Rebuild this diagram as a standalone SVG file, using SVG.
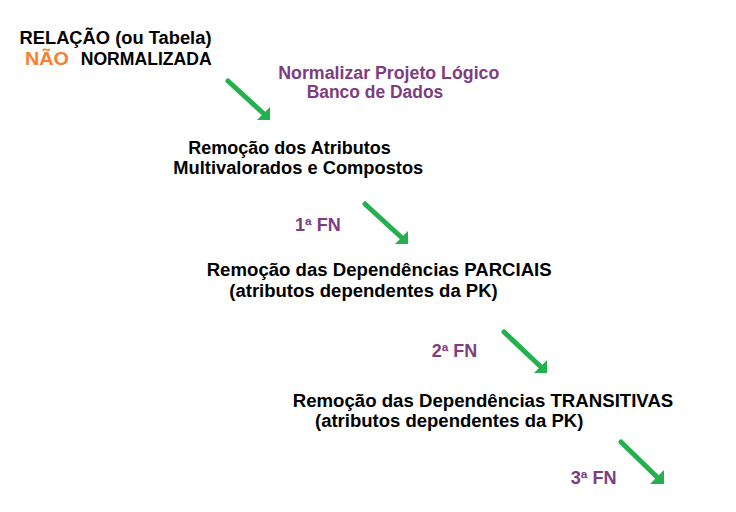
<svg xmlns="http://www.w3.org/2000/svg" width="736" height="512" viewBox="0 0 736 512">
<style>
text{font-family:"Liberation Sans",Arial,sans-serif;font-weight:bold;font-size:18px;fill:#000}
.p{fill:#7e3d80}
.o{fill:#fb7d2e}
.shaft{stroke:#22b14c;stroke-width:5;stroke-linecap:round;fill:none}
.head{fill:#22b14c}
</style>
<rect width="736" height="512" fill="#fff"/>
<g id="node-relacao">
<text x="19.5" y="44" textLength="192" lengthAdjust="spacingAndGlyphs">RELAÇÃO (ou Tabela)</text>
<text x="25" y="65" class="o" textLength="44" lengthAdjust="spacingAndGlyphs">NÃO</text>
<text x="80.7" y="65" textLength="131" lengthAdjust="spacingAndGlyphs">NORMALIZADA</text>
</g>
<g id="label-normalizar">
<text x="278.3" y="79" class="p" textLength="221" lengthAdjust="spacingAndGlyphs">Normalizar Projeto Lógico</text>
<text x="306.7" y="98" class="p" textLength="136.6" lengthAdjust="spacingAndGlyphs">Banco de Dados</text>
</g>
<g id="node-multivalorados">
<text x="188.3" y="154" textLength="202.4" lengthAdjust="spacingAndGlyphs">Remoção dos Atributos</text>
<text x="173.3" y="174" textLength="250" lengthAdjust="spacingAndGlyphs">Multivalorados e Compostos</text>
</g>
<g id="label-1fn">
<text x="295" y="230.7" class="p" textLength="45.7" lengthAdjust="spacingAndGlyphs">1ª FN</text>
</g>
<g id="node-parciais">
<text x="206.7" y="276" textLength="345" lengthAdjust="spacingAndGlyphs">Remoção das Dependências PARCIAIS</text>
<text x="229.3" y="296.5" textLength="268.4" lengthAdjust="spacingAndGlyphs">(atributos dependentes da PK)</text>
</g>
<g id="label-2fn">
<text x="431.7" y="356.7" class="p" textLength="45.6" lengthAdjust="spacingAndGlyphs">2ª FN</text>
</g>
<g id="node-transitivas">
<text x="292.7" y="406.7" textLength="380.6" lengthAdjust="spacingAndGlyphs">Remoção das Dependências TRANSITIVAS</text>
<text x="315" y="427" textLength="268.3" lengthAdjust="spacingAndGlyphs">(atributos dependentes da PK)</text>
</g>
<g id="label-3fn">
<text x="570.7" y="484.3" class="p" textLength="46" lengthAdjust="spacingAndGlyphs">3ª FN</text>
</g>
<g id="connectors">
<line class="shaft" x1="228" y1="81" x2="263" y2="113"/>
<polygon class="head" points="270,120 257,120 270,107"/>
<line class="shaft" x1="365" y1="204" x2="401" y2="237"/>
<polygon class="head" points="408,244 395,244 408,231"/>
<line class="shaft" x1="504" y1="332" x2="540" y2="366"/>
<polygon class="head" points="547,373 534,373 547,360"/>
<line class="shaft" x1="621" y1="442" x2="657" y2="477"/>
<polygon class="head" points="664,484 650,484 664,470"/>
</g>
</svg>
